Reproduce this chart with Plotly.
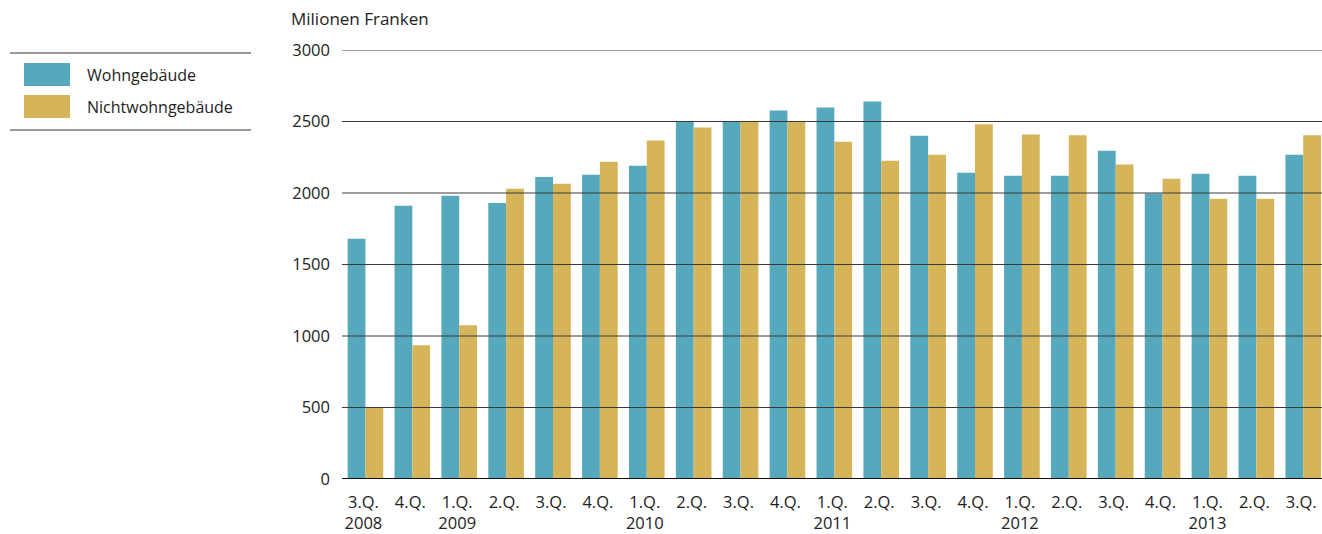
import plotly.graph_objects as go

quarters = ["3.Q.", "4.Q.", "1.Q.", "2.Q.", "3.Q.", "4.Q.", "1.Q.", "2.Q.", "3.Q.", "4.Q.",
            "1.Q.", "2.Q.", "3.Q.", "4.Q.", "1.Q.", "2.Q.", "3.Q.", "4.Q.", "1.Q.", "2.Q.", "3.Q."]
years = ["2008", "", "2009", "", "", "", "2010", "", "", "", "2011", "", "", "", "2012", "", "", "", "2013", "", ""]
wohn = [1680, 1910, 1980, 1930, 2112, 2127, 2190, 2500, 2500, 2577, 2598, 2640, 2401, 2142,
        2121, 2121, 2296, 1997, 2134, 2121, 2267]
nichtwohn = [503, 936, 1076, 2030, 2065, 2219, 2367, 2458, 2504, 2503, 2359, 2226, 2268, 2480,
             2409, 2403, 2199, 2100, 1960, 1960, 2403]
yticks = [0, 500, 1000, 1500, 2000, 2500, 3000]
series_names = ["Wohngebäude", "Nichtwohngebäude"]
colors = ["#56A8BC", "#D6B45A"]

labels = [q + ("<br>" + y if y else "") for q, y in zip(quarters, years)]
xs = list(range(len(quarters)))

FONT = "Open Sans"
W, H = 1322, 534
L, T, R = 342, 50, 0
B = H - 479
pw, ph = W - L - R, H - T - B

def px2x(sx):
    return (sx - L) / pw

def px2y(sy):
    return (H - B - sy) / ph

fig = go.Figure()
for name, vals, col in zip(series_names, [wohn, nichtwohn], colors):
    fig.add_trace(go.Bar(x=xs, y=vals, name=name, marker=dict(color=col, line=dict(width=0)),
                         showlegend=False))

shapes = []
for v in yticks[1:]:
    shapes.append(dict(type="line", xref="paper", yref="y", x0=0, x1=1, y0=v, y1=v,
                       line=dict(color="#3a3a3a", width=1), layer="above"))
shapes.append(dict(type="line", xref="paper", yref="y", x0=0, x1=1, y0=0, y1=0,
                   line=dict(color="#111111", width=2), layer="above"))
# legend frame lines
for sy in (53, 130):
    shapes.append(dict(type="line", xref="paper", yref="paper", x0=px2x(10), x1=px2x(251),
                       y0=px2y(sy), y1=px2y(sy), line=dict(color="#333333", width=1)))
annotations = []
for i, (name, col) in enumerate(zip(series_names, colors)):
    top = 63 + i * 32
    shapes.append(dict(type="rect", xref="paper", yref="paper", x0=px2x(24), x1=px2x(70),
                       y0=px2y(top + 23), y1=px2y(top), fillcolor=col, line=dict(width=0)))
    annotations.append(dict(text=name, xref="paper", yref="paper", x=px2x(85), y=px2y(top + 11.5),
                            xanchor="left", yanchor="middle", showarrow=False,
                            font=dict(family=FONT, size=16, color="#222222")))
annotations.append(dict(text="Milionen Franken", xref="paper", yref="paper", x=px2x(289), y=px2y(19),
                        xanchor="left", yanchor="middle", showarrow=False,
                        font=dict(family=FONT, size=17, color="#222222")))

fig.update_layout(
    width=W, height=H,
    margin=dict(l=L, r=R, t=T, b=B, pad=0),
    paper_bgcolor="white", plot_bgcolor="white",
    barmode="group", bargap=0.24, bargroupgap=0,
    font=dict(family=FONT, size=17, color="#222222"),
    shapes=shapes, annotations=annotations,
    xaxis=dict(range=[-0.5, 20.4], tickmode="array", tickvals=xs, ticktext=labels,
               showgrid=False, zeroline=False, showline=False, ticks="",
               ticklabelshift=-2, ticklabelstandoff=11, tickfont=dict(size=16.5)),
    yaxis=dict(range=[0, 3000], tickmode="array", tickvals=yticks,
               ticktext=[str(v) for v in yticks], showgrid=False, zeroline=False,
               showline=False, ticks="", ticklabelstandoff=11, tickfont=dict(size=16.5)),
)

fig.write_html(
    "out.html",
    config={"displayModeBar": False},
    post_script="document.body.style.margin='0';document.documentElement.style.overflow='hidden';",
)
